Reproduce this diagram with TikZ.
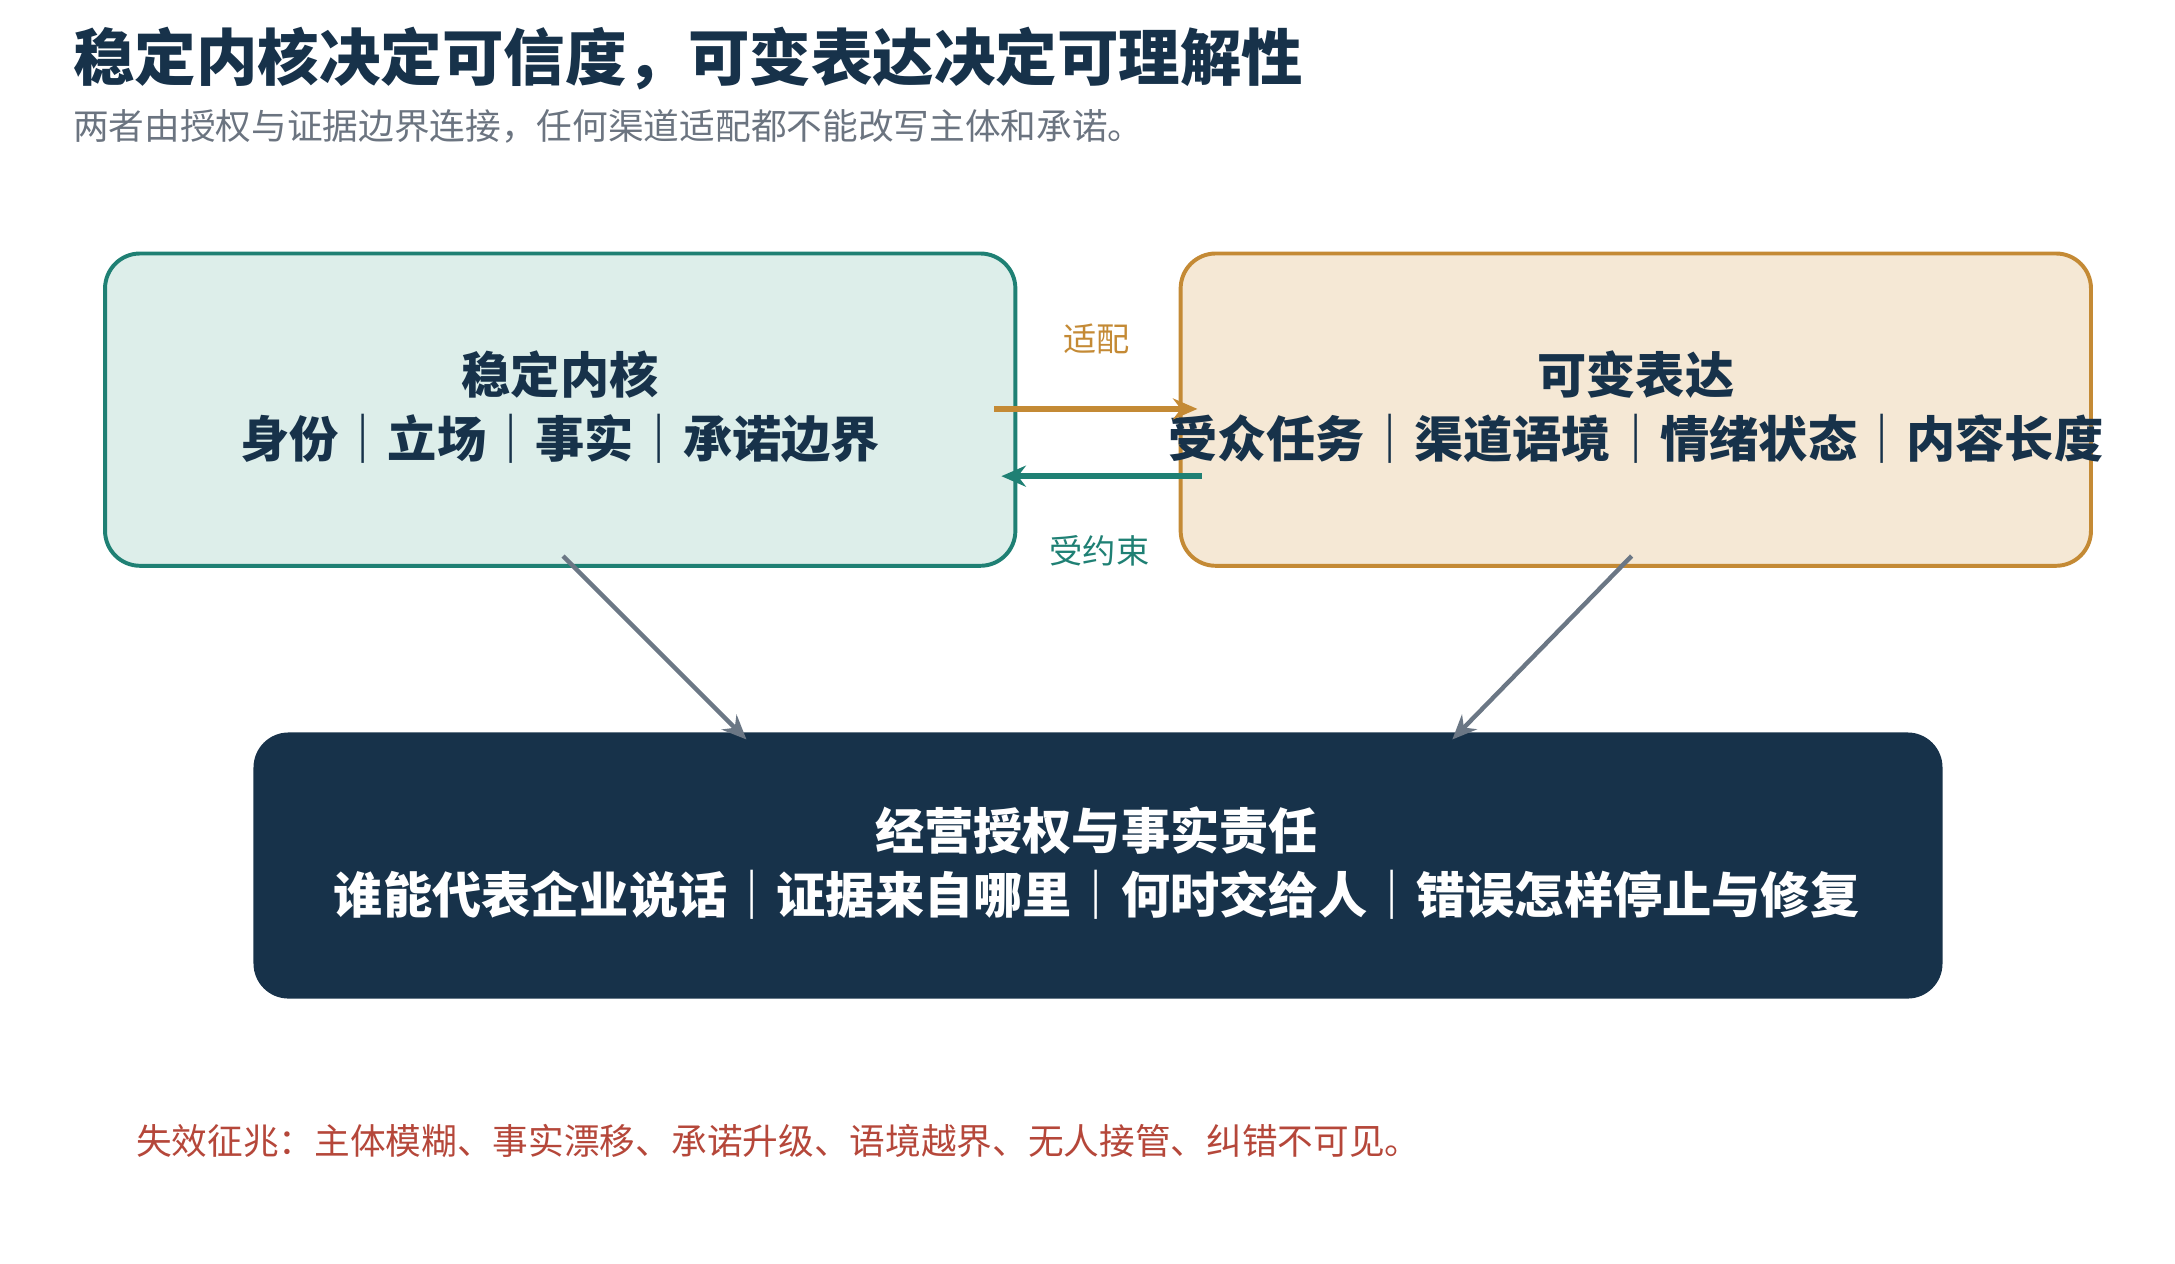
\documentclass[tikz,border=0pt]{standalone}
\usepackage{fontspec}
\setmainfont{Noto Sans CJK SC}
\usetikzlibrary{arrows.meta}
\definecolor{navy}{HTML}{17324A}
\definecolor{tealc}{HTML}{1F8074}
\definecolor{tealf}{HTML}{DDEEEA}
\definecolor{orangec}{HTML}{C48A35}
\definecolor{orangef}{HTML}{F5E8D5}
\definecolor{grayc}{HTML}{6B7785}
\definecolor{subgray}{HTML}{6B7480}
\definecolor{redc}{HTML}{B5473A}
\tikzset{
  box/.style={rounded corners=0.5cm, line width=1.6pt},
  boxtext/.style={font=\fontsize{20}{26}\selectfont\bfseries, align=center},
  link/.style={line width=2.2pt, -{Stealth[length=0.35cm,width=0.3cm]}},
}
\begin{document}
\begin{tikzpicture}[x=0.02cm, y=-0.02cm]
  \useasboundingbox (0,0) rectangle (1553,902);
  \node[anchor=west, text=navy, font=\fontsize{25}{30}\selectfont\bfseries] (title) at (46,42) {稳定内核决定可信度，可变表达决定可理解性};
  \node[anchor=west, text=subgray, font=\fontsize{14.5}{18}\selectfont] (subtitle) at (46,90) {两者由授权与证据边界连接，任何渠道适配都不能改写主体和承诺。};
  % boxes
  \draw[box, draw=tealc, fill=tealf] (75,181) rectangle (725,404);
  \draw[box, draw=orangec, fill=orangef] (843,181) rectangle (1493,404);
  \fill[navy, rounded corners=0.5cm] (181,523) rectangle (1387,713);
  \node[boxtext, text=navy] (core) at (400,291) {稳定内核\\身份｜立场｜事实｜承诺边界};
  \node[boxtext, text=navy] (expr) at (1168,291) {可变表达\\受众任务｜渠道语境｜情绪状态｜内容长度};
  \node[boxtext, text=white] (gov) at (783,616) {经营授权与事实责任\\谁能代表企业说话｜证据来自哪里｜何时交给人｜错误怎样停止与修复};
  % connectors
  \coordinate (a1) at (710,292); \coordinate (a2) at (855,292);
  \coordinate (b1) at (858,340); \coordinate (b2) at (715,340);
  \draw[link, orangec] (a1) -- (a2);
  \draw[link, tealc] (b1) -- (b2);
  \node[text=orangec, font=\fontsize{13.5}{16}\selectfont] (adapt) at (783,242) {适配};
  \node[text=tealc, font=\fontsize{13.5}{16}\selectfont] (bound) at (785,393) {受约束};
  \coordinate (c1) at (402,397); \coordinate (c2) at (533,528);
  \coordinate (d1) at (1165,397); \coordinate (d2) at (1037,528);
  \draw[link, grayc, line width=1.8pt] (c1) -- (c2);
  \draw[link, grayc, line width=1.8pt] (d1) -- (d2);
  \node[anchor=west, text=redc, font=\fontsize{14.5}{18}\selectfont] (fail) at (91,815) {失效征兆：主体模糊、事实漂移、承诺升级、语境越界、无人接管、纠错不可见。};
\end{tikzpicture}
\end{document}
